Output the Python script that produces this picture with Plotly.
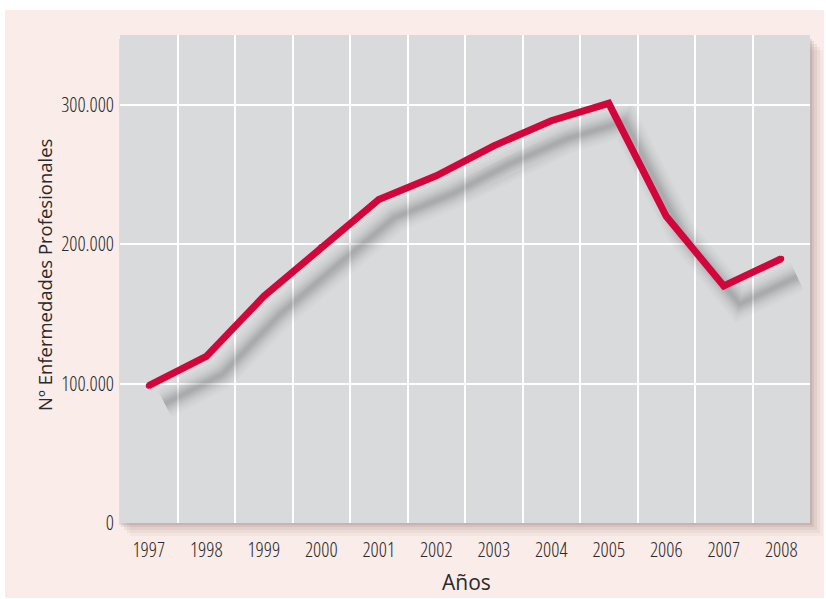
import plotly.graph_objects as go

years = [1997, 1998, 1999, 2000, 2001, 2002, 2003, 2004, 2005, 2006, 2007, 2008]
enfermedades = [98500, 119500, 162500, 198000, 232000, 249000, 270500, 288500, 301000, 220000, 170000, 189500]
ytick_vals = [0, 100000, 200000, 300000]
ytick_text = ["0", "100.000", "200.000", "300.000"]
x_title = "Años"
y_title = "Nº Enfermedades Profesionales"

W, H = 826, 599
ML, MR, MT, MB = 120, 16, 35, 76
PW, PH = W - ML - MR, H - MT - MB

RED = "#d2063b"
PLOT_BG = "#d9dadc"
PINK = "#faece8"
FONT = "Open Sans, Roboto, DejaVu Sans"
TXT = "#2a2a2a"

xr = [1996.5, 2008.5]
yr = [0, 350000]
# shadow offset in pixels (right, down)
dx_px, dy_px = 16, 18
dx = dx_px * (xr[1] - xr[0]) / PW
dy = dy_px * (yr[1] - yr[0]) / PH

fig = go.Figure()

# empty trace to anchor the base (visible) axes
fig.add_trace(go.Scatter(x=[], y=[], mode="lines", xaxis="x", yaxis="y",
                         hoverinfo="skip", showlegend=False))

# blurred shadow built from layered translucent strokes
for w, op in [(30, 0.025), (25, 0.03), (20, 0.04), (16, 0.05), (12, 0.06), (8, 0.07), (4, 0.07)]:
    fig.add_trace(go.Scatter(x=years, y=enfermedades, mode="lines",
                             line=dict(color="rgba(70,70,70,%.3f)" % op, width=w),
                             xaxis="x2", yaxis="y2", hoverinfo="skip", showlegend=False))

fig.add_trace(go.Scatter(x=years, y=enfermedades, mode="lines+markers",
                         line=dict(color=RED, width=7),
                         marker=dict(color=RED, size=6),
                         xaxis="x3", yaxis="y3", showlegend=False))

def px2paper_x(px):
    return (px - ML) / PW

def px2paper_y(py):
    return (H - MB - py) / PH

shapes = [
    dict(type="rect", xref="paper", yref="paper", layer="below",
         x0=px2paper_x(5), x1=px2paper_x(824), y0=px2paper_y(598), y1=px2paper_y(10),
         fillcolor=PINK, line=dict(width=0)),
]
# soft shadow of the plot panel (bottom-right)
for d, op in [(13, 0.04), (10, 0.06), (7, 0.08), (4, 0.10), (2, 0.12)]:
    shapes.append(dict(type="rect", xref="paper", yref="paper", layer="below",
                       x0=px2paper_x(ML + d - 3), x1=px2paper_x(ML + PW + d),
                       y0=px2paper_y(MT + PH + d), y1=px2paper_y(MT + d + 2),
                       fillcolor="rgba(110,75,65,%.2f)" % op, line=dict(width=0)))
# the grey panel itself, on top of its shadow
shapes.append(dict(type="rect", xref="paper", yref="paper", layer="below",
                   x0=0, x1=1, y0=0, y1=1, fillcolor=PLOT_BG, line=dict(width=0)))

annotations = [
    dict(text=x_title, xref="paper", yref="paper", x=px2paper_x(467), y=px2paper_y(582),
         xanchor="center", yanchor="middle", showarrow=False,
         font=dict(family=FONT, size=21, color=TXT)),
    dict(text=y_title, xref="paper", yref="paper", x=px2paper_x(44), y=px2paper_y(275),
         xanchor="center", yanchor="middle", showarrow=False, textangle=-90,
         font=dict(family=FONT, size=18.5, color=TXT)),
]

hidden = dict(visible=False, showgrid=False, zeroline=False, fixedrange=True)

fig.update_layout(
    width=W, height=H,
    margin=dict(l=ML, r=MR, t=MT, b=MB, pad=0),
    paper_bgcolor="white",
    plot_bgcolor="rgba(0,0,0,0)",
    font=dict(family=FONT, color=TXT, size=18),
    shapes=shapes,
    annotations=annotations,
    xaxis=dict(range=xr, tickvals=years, ticktext=[str(y) for y in years],
               showgrid=False, zeroline=False, showline=False,
               ticks="outside", ticklen=9, tickcolor="rgba(0,0,0,0)",
               tickfont=dict(family=FONT, size=20, color=TXT, weight=300),
               minor=dict(tick0=1996.5, dtick=1, showgrid=True, gridcolor="white", gridwidth=2, ticks="")),
    yaxis=dict(range=yr, tickvals=ytick_vals, ticktext=ytick_text,
               showgrid=True, gridcolor="white", gridwidth=2, zeroline=False, showline=False,
               ticks="outside", ticklen=1, tickcolor="rgba(0,0,0,0)",
               tickfont=dict(family=FONT, size=20, color=TXT, weight=300)),
    xaxis2=dict(range=[xr[0] - dx, xr[1] - dx], overlaying="x", anchor="y2", **hidden),
    yaxis2=dict(range=[yr[0] + dy, yr[1] + dy], overlaying="y", anchor="x2", **hidden),
    xaxis3=dict(range=xr, overlaying="x", anchor="y3", **hidden),
    yaxis3=dict(range=yr, overlaying="y", anchor="x3", **hidden),
)

post = (
    "document.body.style.margin='0';document.body.style.padding='0';"
    "var s=document.createElement('style');"
    "s.textContent='.xtick text, .ytick text{font-stretch:75% !important;}';"
    "document.head.appendChild(s);"
)
fig.write_html("out.html", config={"displayModeBar": False}, post_script=post)
